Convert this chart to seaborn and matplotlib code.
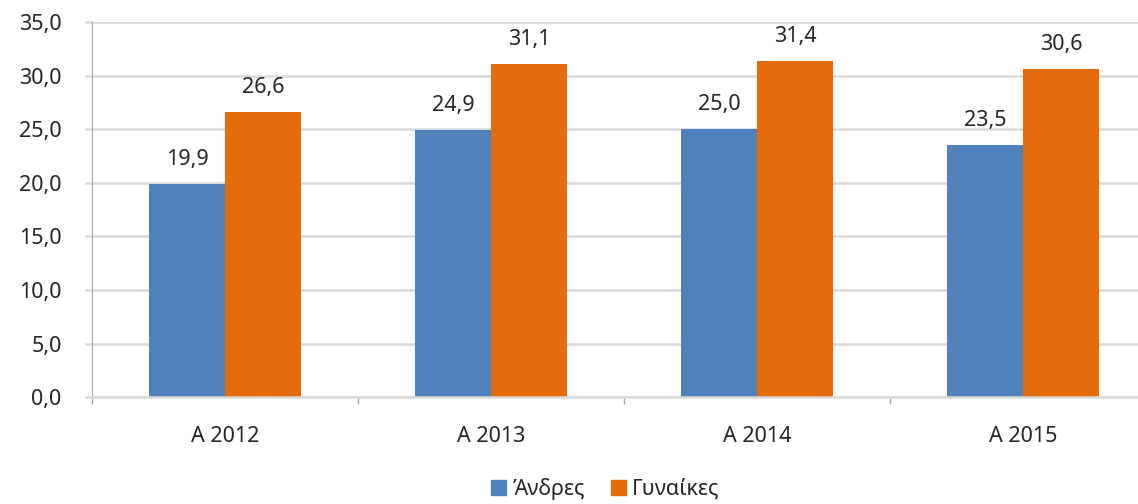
import pandas as pd
import matplotlib.pyplot as plt
import seaborn as sns
from matplotlib.ticker import FixedLocator, FuncFormatter
from matplotlib.patches import Patch

# Data
quarters = ["Α 2012", "Α 2013", "Α 2014", "Α 2015"]
men = [19.9, 24.9, 25.0, 23.5]
women = [26.6, 31.1, 31.4, 30.6]
series_names = ["Άνδρες", "Γυναίκες"]
colors = ["#4F81BD", "#E46C0A"]

df = pd.DataFrame({
    "quarter": quarters * 2,
    "value": men + women,
    "series": [series_names[0]] * len(quarters) + [series_names[1]] * len(quarters),
})

sns.set_style("white")
plt.rcParams['font.family'] = ['Noto Sans', 'DejaVu Sans']
fs = 15.5

fig = plt.figure(figsize=(11.38, 5.04), dpi=100)
ax = fig.add_axes([0.081, 0.212, 0.935, 0.744])

sns.barplot(data=df, x="quarter", y="value", hue="series", palette=colors,
            width=0.572, gap=0, ax=ax, legend=False, saturation=1, linewidth=0)

for cont in ax.containers:
    ax.bar_label(cont, labels=[f"{v:.1f}".replace(".", ",") for v in cont.datavalues],
                 padding=10, fontsize=fs, color="#262626")

ax.set_ylim(0, 35)
ax.set_xlim(-0.5, 3.5)
ax.set_yticks(range(0, 36, 5))
ax.yaxis.set_major_formatter(FuncFormatter(lambda v, p: f"{v:.1f}".replace(".", ",")))
ax.grid(axis="y", color="#d9d9d9", linewidth=1.8)
ax.set_axisbelow(True)
ax.set_xlabel("")
ax.set_ylabel("")

for s in ["top", "right"]:
    ax.spines[s].set_visible(False)
ax.spines["left"].set_color("#a6a6a6")
ax.spines["bottom"].set_color("#d9d9d9")
ax.spines["bottom"].set_linewidth(1.8)

ax.xaxis.set_minor_locator(FixedLocator([-0.5, 0.5, 1.5, 2.5, 3.5]))
ax.tick_params(axis="x", which="major", length=0, pad=21, labelsize=fs, labelcolor="#262626")
ax.tick_params(axis="x", which="minor", length=5, width=1, color="#a6a6a6", direction="out", bottom=True)
ax.tick_params(axis="y", length=5, width=1.8, color="#d9d9d9", pad=17, labelsize=fs,
               labelcolor="#262626", left=True)

handles = [Patch(color=c, label=n) for c, n in zip(colors, series_names)]
fig.legend(handles=handles, loc="center", bbox_to_anchor=(0.532, 0.03), ncol=2, frameon=False,
           fontsize=fs, handlelength=0.7, handleheight=0.7, handletextpad=0.3, columnspacing=1.2,
           labelcolor="#262626")

fig.savefig("out.png", dpi=100)
